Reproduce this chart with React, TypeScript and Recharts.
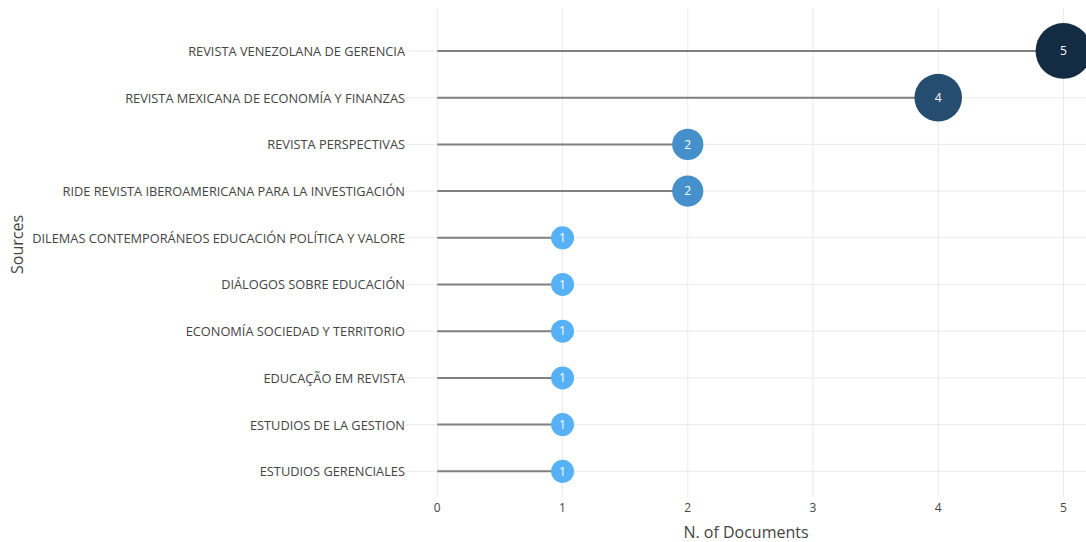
import React from 'react';
import {
    ScatterChart,
    Scatter,
    XAxis,
    YAxis,
    CartesianGrid,
    ReferenceLine,
    LabelList,
} from 'recharts';

const sources = [
    'REVISTA VENEZOLANA DE GERENCIA',
    'REVISTA MEXICANA DE ECONOMÍA Y FINANZAS',
    'REVISTA PERSPECTIVAS',
    'RIDE REVISTA IBEROAMERICANA PARA LA INVESTIGACIÓN',
    'DILEMAS CONTEMPORÁNEOS EDUCACIÓN POLÍTICA Y VALORE',
    'DIÁLOGOS SOBRE EDUCACIÓN',
    'ECONOMÍA SOCIEDAD Y TERRITORIO',
    'EDUCAÇÃO EM REVISTA',
    'ESTUDIOS DE LA GESTION',
    'ESTUDIOS GERENCIALES',
];

const documents = [5, 4, 2, 2, 1, 1, 1, 1, 1, 1];

const xTicks = [0, 1, 2, 3, 4, 5];

const rows = sources.map((name, i) => ({ idx: i, name, value: documents[i] }));
const idxTicks = rows.map((r) => r.idx);

// colour ramp from light blue (1) to dark navy (5)
const low = [86, 177, 247];
const high = [19, 43, 67];
const colorFor = (v: number) => {
    const t = (v - 1) / 4;
    const c = low.map((l, k) => Math.round(l + (high[k] - l) * t));
    return `rgb(${c[0]},${c[1]},${c[2]})`;
};
const radiusFor = (v: number) => 7.4 + 4.1 * v;

const Bubble = (props: any) => {
    const { cx, cy, payload } = props;
    if (cx == null || cy == null) return null;
    return <circle cx={cx} cy={cy} r={radiusFor(payload.value)} fill={colorFor(payload.value)} />;
};

// plain text tick so long names stay on one line
const SourceTick = (props: any) => {
    const { x, y, payload } = props;
    return (
        <text x={x} y={y} textAnchor="end" dominantBaseline="central" fill="#444" fontSize={12.8}>
            {sources[payload.value] ?? ''}
        </text>
    );
};

const SourcesLabel = (props: any) => {
    const { viewBox } = props;
    const x = 17;
    const y = viewBox.y + viewBox.height / 2 - 8;
    return (
        <text
            x={x}
            y={y}
            transform={`rotate(-90, ${x}, ${y})`}
            textAnchor="middle"
            dominantBaseline="central"
            fill="#444"
            fontSize={16}
        >
            Sources
        </text>
    );
};

const App: React.FC = () => {
    return (
        <div style={{ position: 'absolute', left: 0, top: 0 }}>
            <ScatterChart
                width={1086}
                height={542}
                margin={{ top: 8, right: 0, bottom: 0, left: 0 }}
                style={{ fontFamily: '"Open Sans", sans-serif' }}
            >
                <CartesianGrid stroke="#ebebeb" strokeWidth={1} syncWithTicks />
                <XAxis
                    type="number"
                    dataKey="value"
                    domain={[-0.25, 5.18]}
                    ticks={xTicks}
                    interval={0}
                    axisLine={false}
                    tickLine={false}
                    tickSize={0}
                    tickMargin={6}
                    height={45}
                    tick={{ fill: '#444', fontSize: 12 }}
                    label={{ value: 'N. of Documents', position: 'insideBottom', offset: 4, fill: '#444', fontSize: 16 }}
                />
                <YAxis
                    type="number"
                    dataKey="idx"
                    domain={[-0.92, 9.55]}
                    ticks={idxTicks}
                    interval={0}
                    reversed
                    width={406}
                    axisLine={false}
                    tickLine={false}
                    tickSize={0}
                    tickMargin={1}
                    tick={<SourceTick />}
                    label={<SourcesLabel />}
                />
                {rows.map((r) => (
                    <ReferenceLine
                        key={r.name}
                        segment={[
                            { x: 0, y: r.idx },
                            { x: r.value, y: r.idx },
                        ]}
                        stroke="#808080"
                        strokeWidth={2}
                    />
                ))}
                <Scatter data={rows} shape={<Bubble />} isAnimationActive={false}>
                    <LabelList dataKey="value" position="center" fill="#fff" fontSize={12} />
                </Scatter>
            </ScatterChart>
        </div>
    );
};

export default App;
